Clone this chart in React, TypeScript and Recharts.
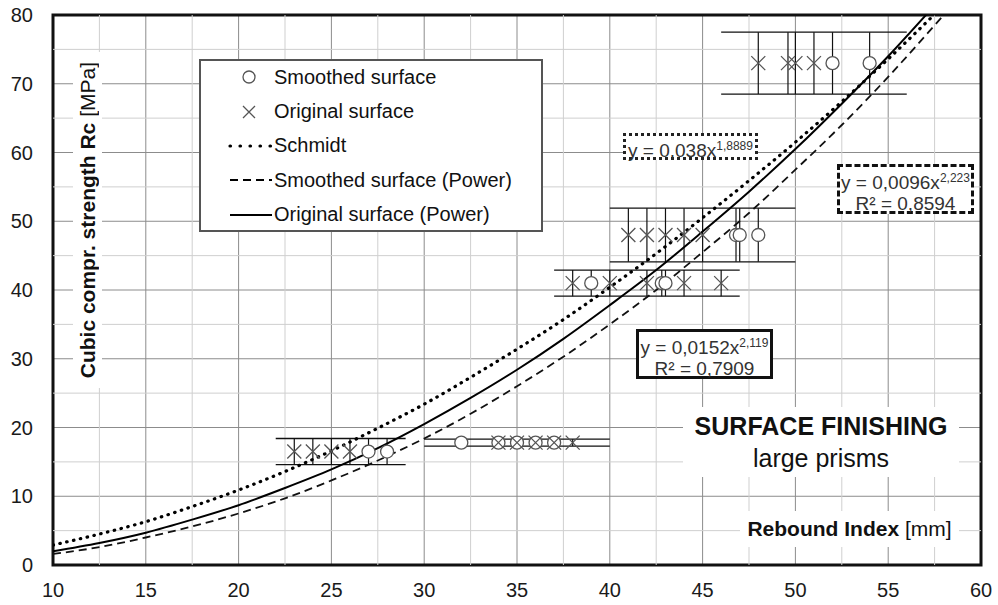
import React from 'react';
import { ComposedChart, Line, Scatter, XAxis, YAxis, CartesianGrid, ReferenceLine, ReferenceArea, ErrorBar, Legend } from 'recharts';

// axis ticks
const xTicks = [10, 15, 20, 25, 30, 35, 40, 45, 50, 55, 60];
const yTicks = [0, 10, 20, 30, 40, 50, 60, 70, 80];
const xMinor = [12.5, 17.5, 22.5, 27.5, 32.5, 37.5, 42.5, 47.5, 52.5, 57.5];
const yMinor = [5, 15, 25, 35, 45, 55, 65, 75];

// measured points (rebound index / strength / vertical spread)
const smoothedRebound = [27, 28, 32, 34, 35, 36, 37, 39, 42.8, 43, 46.8, 47, 48, 52, 54];
const smoothedStrength = [16.5, 16.5, 17.8, 17.8, 17.8, 17.8, 17.8, 41, 41, 41, 48, 48, 48, 73, 73];
const smoothedSpread = [1.9, 1.9, 0.5, 0.5, 0.5, 0.5, 0.5, 1.9, 1.9, 1.9, 3.9, 3.9, 3.9, 4.5, 4.5];

const originalRebound = [23, 24, 25, 26, 34, 35, 36, 37, 38, 38, 40, 42, 44, 46, 41, 42, 43, 44, 45, 48, 49.6, 50, 51];
const originalStrength = [16.5, 16.5, 16.5, 16.5, 17.8, 17.8, 17.8, 17.8, 17.8, 41, 41, 41, 41, 41, 48, 48, 48, 48, 48, 73, 73, 73, 73];
const originalSpread = [1.9, 1.9, 1.9, 1.9, 0.5, 0.5, 0.5, 0.5, 0.5, 1.9, 1.9, 1.9, 1.9, 1.9, 3.9, 3.9, 3.9, 3.9, 3.9, 4.5, 4.5, 4.5, 4.5];

// horizontal range bars of each group
const rangeStrength = [16.5, 17.8, 41, 48, 73];
const rangeSpread = [1.9, 0.5, 1.9, 3.9, 4.5];
const rangeFrom = [22, 30, 37, 40, 46];
const rangeTo = [29, 40, 47, 50, 56];

// trend curves
const curveRebound = [10, 12.5, 15, 17.5, 20, 22.5, 25, 27.5, 30, 32.5, 35, 37.5, 40, 42.5, 45, 47.5, 50, 52.5, 55, 57.5, 60];
const schmidtStrength = [2.9, 4.5, 6.3, 8.5, 10.9, 13.6, 16.6, 19.9, 23.4, 27.3, 31.4, 35.7, 40.4, 45.3, 50.5, 55.9, 61.5, 67.4, 73.6, 80.1, 86.8];
const smoothedFit = [1.6, 2.6, 4.0, 5.6, 7.5, 9.7, 12.3, 15.2, 18.4, 22.0, 26.0, 30.3, 35.0, 40.0, 45.5, 51.2, 57.5, 64.0, 71.0, 78.5, 86.1];
const originalFit = [2.0, 3.2, 4.7, 6.6, 8.7, 11.2, 13.9, 17.0, 20.5, 24.3, 28.4, 32.9, 37.8, 42.9, 48.5, 54.3, 60.5, 67.1, 74.0, 81.4, 89.0];

const legendNames = ['Smoothed surface', 'Original surface', 'Schmidt', 'Smoothed surface (Power)', 'Original surface (Power)'];

const FONT = 'Arial, "Liberation Sans", sans-serif';

const smoothedPoints = smoothedRebound.map((x, i) => ({ x, y: smoothedStrength[i], err: smoothedSpread[i] }));
const originalPoints = originalRebound.map((x, i) => ({ x, y: originalStrength[i], err: originalSpread[i] }));
const schmidtData = curveRebound.map((x, i) => ({ x, y: schmidtStrength[i] }));
const smoothedFitData = curveRebound.map((x, i) => ({ x, y: smoothedFit[i] }));
const originalFitData = curveRebound.map((x, i) => ({ x, y: originalFit[i] }));

const CircleMark = (props: any) => (
  <circle cx={props.cx} cy={props.cy} r={6.5} fill="#fff" stroke="#555" strokeWidth={1.3} />
);
const CrossMark = (props: any) => {
  const { cx, cy } = props;
  return (
    <path d={`M${cx - 7},${cy - 7}L${cx + 7},${cy + 7}M${cx + 7},${cy - 7}L${cx - 7},${cy + 7}`} stroke="#555" strokeWidth={1.3} fill="none" />
  );
};

const renderLegend = () => (
  <div style={{ width: 344, height: 173, boxSizing: 'border-box', border: '2px solid #555', background: '#fff', fontFamily: FONT, fontSize: 20, color: '#111' }}>
    {legendNames.map((name, i) => (
      <div key={name} style={{ display: 'flex', alignItems: 'center', height: 34.4, marginTop: i === 0 ? -1 : 0 }}>
        <svg width={73} height={34}>
          {i === 0 && <circle cx={48} cy={17} r={6} fill="#fff" stroke="#555" strokeWidth={1.3} />}
          {i === 1 && <path d="M42,11L54,23M54,11L42,23" stroke="#555" strokeWidth={1.3} />}
          {i === 2 && <line x1={29} x2={71} y1={17} y2={17} stroke="#000" strokeWidth={3.2} strokeDasharray="0.5 9.5" strokeLinecap="round" />}
          {i === 3 && <line x1={29} x2={71} y1={17} y2={17} stroke="#000" strokeWidth={1.8} strokeDasharray="8 5" />}
          {i === 4 && <line x1={29} x2={71} y1={17} y2={17} stroke="#000" strokeWidth={2} />}
        </svg>
        <span>{name}</span>
      </div>
    ))}
  </div>
);

const XTick = (props: any) => (
  <text x={props.x} y={props.y} dy="0.71em" textAnchor="middle" fontSize={20} fontFamily={FONT} fill="#1a1a1a">{props.payload.value}</text>
);
const YTick = (props: any) => (
  <text x={props.x} y={props.y} dy="0.36em" textAnchor="end" fontSize={20} fontFamily={FONT} fill="#1a1a1a">{props.payload.value}</text>
);

const boxText: React.CSSProperties = { position: 'absolute', background: '#fff', boxSizing: 'border-box', fontFamily: FONT, color: '#333', fontSize: 19, lineHeight: '21px', textAlign: 'center' };

export default function App() {
  return (
    <div style={{ position: 'absolute', left: 0, top: 0, width: 998, height: 605, background: '#fff', fontFamily: FONT }}>
      <ComposedChart width={998} height={605} margin={{ top: 15, right: 17, left: 0, bottom: 0 }}>
        <CartesianGrid stroke="#8c8c8c" strokeWidth={1} />
        {xMinor.map((v) => (
          <ReferenceLine key={'vx' + v} x={v} stroke="#cfcfcf" strokeWidth={1} />
        ))}
        {yMinor.map((v) => (
          <ReferenceLine key={'hy' + v} y={v} stroke="#cfcfcf" strokeWidth={1} />
        ))}
        <XAxis type="number" dataKey="x" domain={[10, 60]} ticks={xTicks} allowDataOverflow axisLine={false} tickLine={false} tickSize={0} tickMargin={18} height={40} tick={<XTick />} />
        <YAxis type="number" domain={[0, 80]} ticks={yTicks} allowDataOverflow axisLine={false} tickLine={false} tickSize={0} tickMargin={20} width={53} tick={<YTick />} />
        <Legend layout="horizontal" verticalAlign="middle" align="center" content={renderLegend} wrapperStyle={{ left: 199, top: 59, width: 344, height: 173 }} />
        {rangeStrength.map((s, i) => (
          <ReferenceLine key={'rt' + i} segment={[{ x: rangeFrom[i], y: s + rangeSpread[i] }, { x: rangeTo[i], y: s + rangeSpread[i] }]} stroke="#111" strokeWidth={1.3} />
        ))}
        {rangeStrength.map((s, i) => (
          <ReferenceLine key={'rb' + i} segment={[{ x: rangeFrom[i], y: s - rangeSpread[i] }, { x: rangeTo[i], y: s - rangeSpread[i] }]} stroke="#111" strokeWidth={1.3} />
        ))}
        <Scatter data={smoothedPoints} dataKey="y" shape={CircleMark} isAnimationActive={false}>
          <ErrorBar dataKey="err" direction="y" width={0} stroke="#111" strokeWidth={1.2} />
        </Scatter>
        <Scatter data={originalPoints} dataKey="y" shape={CrossMark} isAnimationActive={false}>
          <ErrorBar dataKey="err" direction="y" width={0} stroke="#111" strokeWidth={1.2} />
        </Scatter>
        <Line data={schmidtData} dataKey="y" type="monotone" dot={false} stroke="#000" strokeWidth={3.2} strokeDasharray="0.5 6.5" strokeLinecap="round" isAnimationActive={false} />
        <Line data={smoothedFitData} dataKey="y" type="monotone" dot={false} stroke="#111" strokeWidth={1.8} strokeDasharray="8 5" isAnimationActive={false} />
        <Line data={originalFitData} dataKey="y" type="monotone" dot={false} stroke="#000" strokeWidth={2} isAnimationActive={false} />
        <ReferenceArea x1={10} x2={60} y1={0} y2={80} fill="none" stroke="#111" strokeWidth={3} />
      </ComposedChart>

      {/* y axis title */}
      <div style={{ position: 'absolute', left: 73, top: 52, width: 29, height: 336, background: '#fff', display: 'flex', alignItems: 'center', justifyContent: 'center' }}>
        <div style={{ writingMode: 'vertical-rl', transform: 'rotate(180deg)', whiteSpace: 'nowrap', fontSize: 21, color: '#111' }}>
          <b>Cubic compr. strength Rc</b> [MPa]
        </div>
      </div>

      {/* x axis title */}
      <div style={{ position: 'absolute', left: 740, top: 511, width: 219, height: 36, background: '#fff', fontSize: 21, color: '#111', lineHeight: '36px', textAlign: 'center', whiteSpace: 'nowrap' }}>
        <b>Rebound Index</b> [mm]
      </div>

      {/* chart caption */}
      <div style={{ position: 'absolute', left: 683, top: 407, width: 276, height: 70, background: '#fff', textAlign: 'center', color: '#111' }}>
        <div style={{ fontSize: 25, fontWeight: 'bold', lineHeight: '34px', marginTop: 2 }}>SURFACE FINISHING</div>
        <div style={{ fontSize: 25, lineHeight: '30px' }}>large prisms</div>
      </div>

      {/* trend equations */}
      <div style={{ ...boxText, left: 623, top: 133, width: 135, height: 27, border: '3px dotted #222', lineHeight: '21px' }}>
        y = 0,038x<sup style={{ fontSize: 12 }}>1,8889</sup>
      </div>
      <div style={{ ...boxText, left: 837, top: 164, width: 137, height: 50, border: '3px dashed #111', paddingTop: 1 }}>
        y = 0,0096x<sup style={{ fontSize: 12 }}>2,223</sup>
        <br />R² = 0,8594
      </div>
      <div style={{ ...boxText, left: 636, top: 329, width: 137, height: 50, border: '3px solid #111', paddingTop: 1 }}>
        y = 0,0152x<sup style={{ fontSize: 12 }}>2,119</sup>
        <br />R² = 0,7909
      </div>
    </div>
  );
}
